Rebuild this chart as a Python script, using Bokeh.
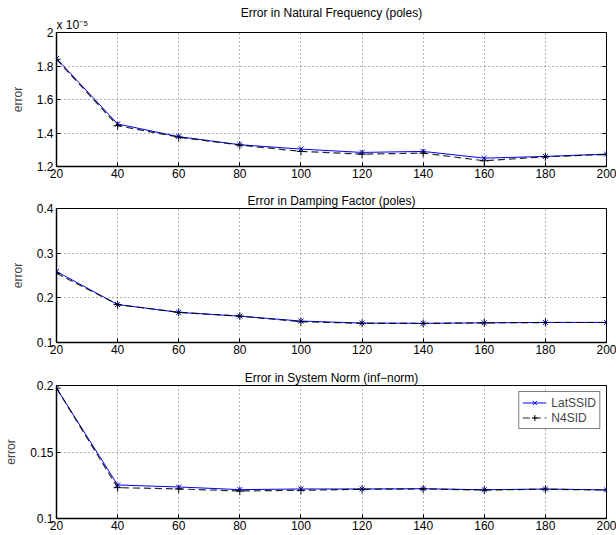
from bokeh.plotting import figure
from bokeh.layouts import column
from bokeh.models import FixedTicker, CustomJSTickFormatter, Range1d, Title, LinearAxis
from bokeh.embed import file_html
from bokeh.resources import INLINE

# ---- data ----
n_points = [20, 40, 60, 80, 100, 120, 140, 160, 180, 200]

# Error in natural frequency (x 1e-5)
freq_latssid = [1.845, 1.454, 1.378, 1.330, 1.304, 1.284, 1.290, 1.250, 1.260, 1.274]
freq_n4sid = [1.840, 1.444, 1.375, 1.328, 1.290, 1.274, 1.280, 1.234, 1.258, 1.272]

# Error in damping factor
damp_latssid = [0.259, 0.185, 0.1675, 0.159, 0.148, 0.1435, 0.143, 0.144, 0.145, 0.145]
damp_n4sid = [0.255, 0.185, 0.1675, 0.159, 0.1465, 0.1430, 0.1425, 0.1440, 0.1448, 0.1448]

# Error in system norm
norm_latssid = [0.198, 0.1252, 0.1237, 0.1217, 0.1222, 0.1222, 0.1224, 0.1216, 0.1222, 0.1215]
norm_n4sid = [0.198, 0.1232, 0.1222, 0.1207, 0.1212, 0.1220, 0.1222, 0.1214, 0.1220, 0.1214]

x_ticks = [20, 40, 60, 80, 100, 120, 140, 160, 180, 200]
freq_ticks = [1.2, 1.4, 1.6, 1.8, 2.0]
damp_ticks = [0.1, 0.2, 0.3, 0.4]
norm_ticks = [0.1, 0.15, 0.2]

titles = ["Error in Natural Frequency (poles)",
          "Error in Damping Factor (poles)",
          "Error in System Norm (inf\u2212norm)"]
freq_scale_text = "x 10\u207b\u2075"
series_names = ["LatSSID", "N4SID"]

FONT = "Liberation Sans"
FS = "12px"
W = 616


def make_title(text, align, standoff):
    t = Title(text=text, align=align, text_font=FONT, text_font_size=FS,
              text_font_style="normal", text_color="black", standoff=standoff)
    return t


def make_panel(title, lat, n4, yticks, height, top, bottom, legend=False, scale_text=None):
    p = figure(width=W, height=height, output_backend="svg", toolbar_location=None,
               x_range=Range1d(x_ticks[0], x_ticks[-1]),
               y_range=Range1d(yticks[0], yticks[-1]),
               min_border_left=56, min_border_right=10,
               min_border_top=top, min_border_bottom=bottom)
    if scale_text is not None:
        p.add_layout(make_title(scale_text, "left", 1), "above")
        p.add_layout(make_title(title, "center", -8), "above")
    else:
        p.add_layout(make_title(title, "center", 1), "above")
    p.outline_line_color = "black"
    p.outline_line_width = 1
    p.background_fill_color = "white"
    p.border_fill_color = "white"

    for ax in (p.xaxis[0], p.yaxis[0]):
        ax.axis_line_color = "black"
        ax.axis_line_width = 1.5
        ax.major_tick_in = 4
        ax.major_tick_out = 0
        ax.minor_tick_line_color = None
        ax.major_tick_line_color = "black"
        ax.major_label_text_font = FONT
        ax.major_label_text_font_size = FS
        ax.major_label_text_color = "black"
        ax.formatter = CustomJSTickFormatter(code="return String(Math.round(tick*1000)/1000);")
    p.xaxis.ticker = FixedTicker(ticks=x_ticks)
    p.yaxis.ticker = FixedTicker(ticks=yticks)
    p.xaxis.major_label_standoff = 2
    p.yaxis.major_label_standoff = 3
    p.yaxis.axis_label = "error"
    p.yaxis.axis_label_text_font = FONT
    p.yaxis.axis_label_text_font_size = FS
    p.yaxis.axis_label_text_font_style = "normal"
    p.yaxis.axis_label_standoff = 9

    # mirrored tick marks on the right edge (box style)
    rax = LinearAxis(ticker=FixedTicker(ticks=yticks),
                     formatter=CustomJSTickFormatter(code="return '';"),
                     axis_line_color=None, major_tick_in=4, major_tick_out=0,
                     major_tick_line_color="black", minor_tick_line_color=None,
                     major_label_standoff=0, major_label_text_font_size="1px")
    p.add_layout(rax, "right")

    for g in (p.xgrid, p.ygrid):
        g.grid_line_color = "black"
        g.grid_line_alpha = 0.6
        g.grid_line_dash = "1 3"
        g.grid_line_width = 1

    kw_lat = dict(legend_label=series_names[0]) if legend else {}
    kw_n4 = dict(legend_label=series_names[1]) if legend else {}
    p.line(n_points, lat, line_color="#0000ff", line_width=1, **kw_lat)
    p.scatter(n_points, lat, marker="x", size=7, line_color="#0000ff", line_width=1, **kw_lat)
    p.line(n_points, n4, line_color="black", line_width=1.2, line_dash="7 4", line_alpha=0.85, **kw_n4)
    p.scatter(n_points, n4, marker="cross", size=8, line_color="black", line_width=1, **kw_n4)

    if legend:
        lg = p.legend[0]
        lg.location = "top_right"
        lg.margin = 6
        lg.padding = 3
        lg.spacing = 0
        lg.label_text_font = FONT
        lg.label_text_font_size = FS
        lg.label_height = 15
        lg.glyph_height = 15
        lg.glyph_width = 24
        lg.label_standoff = 5
        lg.border_line_color = "black"
        lg.border_line_width = 1.5
        lg.background_fill_alpha = 1
    return p


p1 = make_panel(titles[0], freq_latssid, freq_n4sid, freq_ticks, 184, 32, 18,
                scale_text=freq_scale_text)
p2 = make_panel(titles[1], damp_latssid, damp_n4sid, damp_ticks, 176, 24, 18)
p3 = make_panel(titles[2], norm_latssid, norm_n4sid, norm_ticks, 175, 25, 17, legend=True)

layout = column(p1, p2, p3, spacing=0)

open("out.html", "w").write(file_html(layout, INLINE))
